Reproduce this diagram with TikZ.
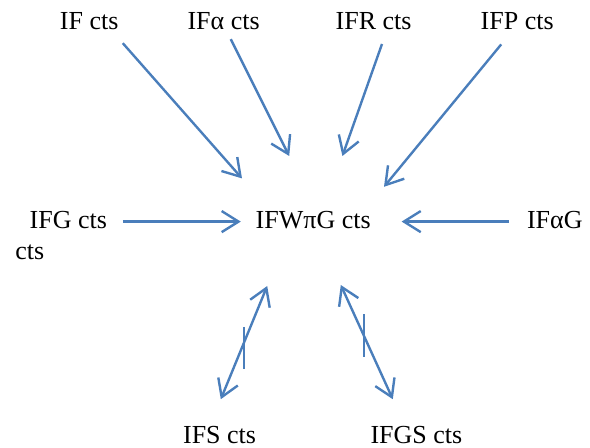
\documentclass[tikz,border=0pt]{standalone}
\usepackage{fontspec}
\setmainfont{Liberation Serif}
\usepackage{xcolor}
\usepackage{tikz}
\usetikzlibrary{arrows.meta}
\definecolor{linkblue}{RGB}{74,126,187}

\begin{document}
\begin{tikzpicture}[font=\fontsize{18.5}{21.5}\selectfont,>={Straight Barb[length=12pt,width=15pt]},
  lbl/.style={anchor=base,inner sep=0pt},
  arr/.style={->,linkblue,line width=1.7pt},
  twoway/.style={<->,linkblue,line width=1.7pt},
  tickmark/.style={linkblue,line width=1.5pt}]
\useasboundingbox (0,0) rectangle (14.75,11.2);
% labels
\node[lbl] (if) at (2.23,10.47) {IF cts};
\node[lbl] (ifa) at (5.59,10.47) {IFα cts};
\node[lbl] (ifr) at (9.34,10.47) {IFR cts};
\node[lbl] (ifp) at (12.93,10.47) {IFP cts};
\node[lbl,anchor=base west,align=left] (ifg) at (0.375,4.72) {\hspace{0.36cm}IFG cts\\cts};
\node[lbl] (hub) at (7.83,5.475) {IFWπG cts};
\node[lbl] (ifag) at (13.87,5.475) {IFαG};
\node[lbl] (ifs) at (5.49,0.12) {IFS cts};
\node[lbl] (ifgs) at (10.41,0.10) {IFGS cts};
% arrow ends
\coordinate (if-out) at (3.07,10.12);   \coordinate (if-in) at (6.05,6.74);
\coordinate (ifa-out) at (5.77,10.22);  \coordinate (ifa-in) at (7.23,7.30);
\coordinate (ifr-out) at (9.55,10.10);  \coordinate (ifr-in) at (8.56,7.30);
\coordinate (ifp-out) at (12.53,10.09); \coordinate (ifp-in) at (9.60,6.53);
\coordinate (ifg-out) at (3.07,5.66);   \coordinate (ifg-in) at (6.02,5.66);
\coordinate (ifag-out) at (12.73,5.66); \coordinate (ifag-in) at (10.04,5.66);
\coordinate (ifs-top) at (6.68,4.05);   \coordinate (ifs-bot) at (5.52,1.22);
\coordinate (ifgs-top) at (8.52,4.075); \coordinate (ifgs-bot) at (9.82,1.22);
% arrows
\draw[arr] (if-out) -- (if-in);
\draw[arr] (ifa-out) -- (ifa-in);
\draw[arr] (ifr-out) -- (ifr-in);
\draw[arr] (ifp-out) -- (ifp-in);
\draw[arr] (ifg-out) -- (ifg-in);
\draw[arr] (ifag-out) -- (ifag-in);
\draw[twoway] (ifs-top) -- (ifs-bot);
\draw[twoway] (ifgs-top) -- (ifgs-bot);
\draw[tickmark] (6.1,3.03) -- (6.1,1.97);
\draw[tickmark] (9.1,3.34) -- (9.1,2.27);
\end{tikzpicture}
\end{document}
